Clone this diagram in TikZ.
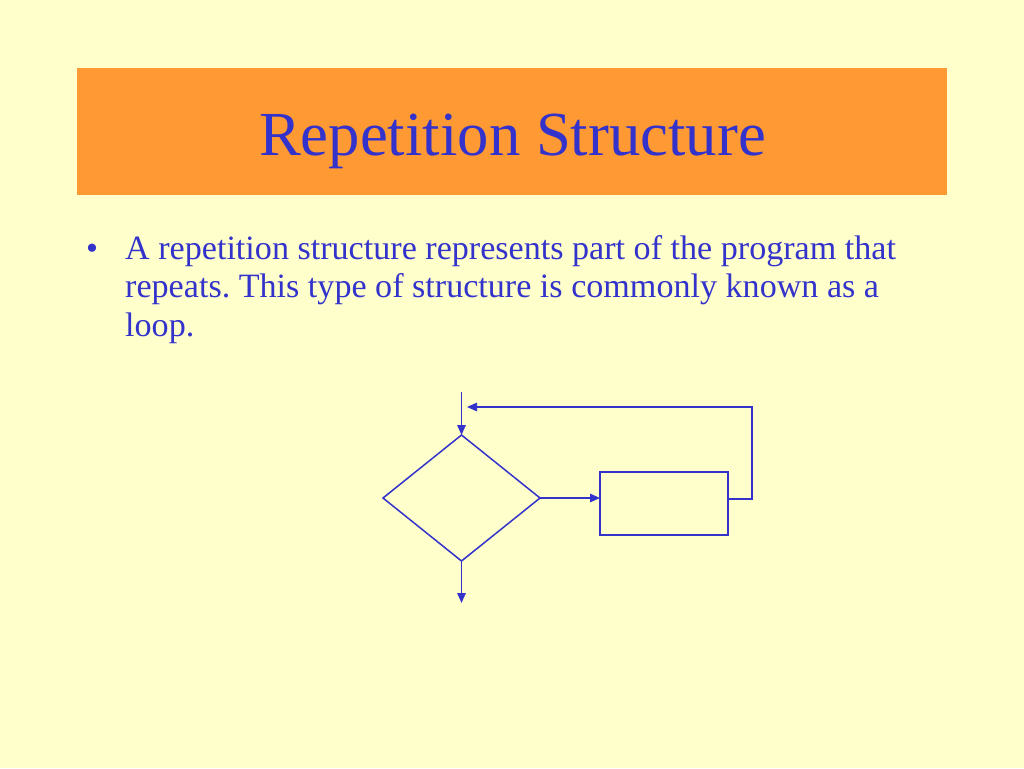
\documentclass[tikz,border=0pt]{standalone}
\usepackage{fontspec}
\setmainfont{Liberation Serif}
\usetikzlibrary{shapes.geometric,arrows.meta}
\definecolor{bg}{HTML}{FFFFCC}
\definecolor{band}{HTML}{FF9933}
\definecolor{ink}{HTML}{3333CC}
\tikzset{
  flow/.style={draw=ink, line width=1.5pt, inner sep=0pt, outer sep=0pt},
  conn/.style={draw=ink, line width=1.5pt, -{Triangle[length=10pt,width=8.5pt]}},
  body/.style={anchor=base west, inner sep=0pt, text=ink, font=\fontsize{34.1}{40}\selectfont}
}
\frenchspacing
\begin{document}
\begin{tikzpicture}[x=1pt,y=-1pt]
\useasboundingbox (0,0) rectangle (1024,768);
\fill[bg] (0,0) rectangle (1024,768);
\fill[band] (77,68) rectangle (947,195);
\node[anchor=base, inner sep=0pt, text=ink, font=\fontsize{62.7}{70}\selectfont] (title) at (512.5,155) {Repetition Structure};
\node[body] (bul) at (86,259) {•};
\node[body] (l1) at (125,259) {A repetition structure represents part of the program that};
\node[body] (l2) at (125,297.5) {repeats. This type of structure is commonly known as a};
\node[body] (l3) at (125,336) {loop.};
\node[flow, diamond, minimum width=157pt, minimum height=126pt] (dia) at (461.5,498) {};
\node[flow, rectangle, minimum width=128pt, minimum height=63pt] (box) at (664,503.5) {};
\coordinate (in) at (461.5,392);
\coordinate (out) at (461.5,603);
\coordinate (c1) at (752,499);
\coordinate (c2) at (752,407);
\coordinate (c3) at (467,407);
\draw[conn] (in) -- (dia.north);
\draw[conn] (dia.east) -- (dia.east -| box.west);
\draw[conn] (dia.south) -- (out);
\draw[conn] (box.east |- c1) -- (c1) -- (c2) -- (c3);
\end{tikzpicture}
\end{document}
